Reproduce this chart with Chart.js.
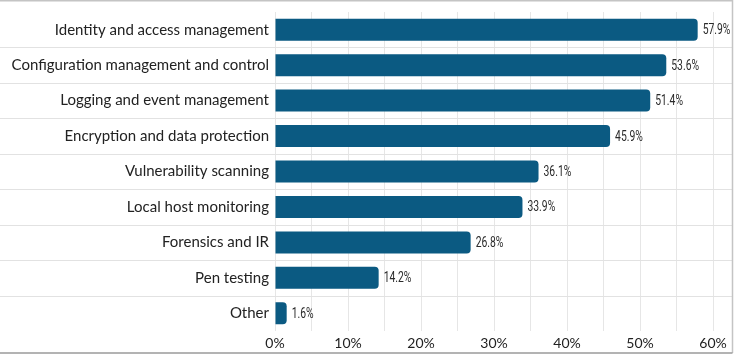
<!DOCTYPE html>
<html>
<head>
<meta charset="utf-8">
<script src="https://cdn.jsdelivr.net/npm/chart.js@4/dist/chart.umd.min.js"></script>
<style>
html,body{margin:0;padding:0;background:#fff;}
#wrap{position:relative;width:737px;height:356px;}
</style>
</head>
<body>
<div id="wrap"><canvas id="c" width="737" height="356"></canvas></div>
<script>
const categories = [
  "Identity and access management",
  "Configuration management and control",
  "Logging and event management",
  "Encryption and data protection",
  "Vulnerability scanning",
  "Local host monitoring",
  "Forensics and IR",
  "Pen testing",
  "Other"
];
const values = [57.9, 53.6, 51.4, 45.9, 36.1, 33.9, 26.8, 14.2, 1.6];
const xTickValues = [0, 10, 20, 30, 40, 50, 60];

const BAR = '#0b5a82';
const TEXT = '#222222';

const separators = {
  id: 'separators',
  beforeDatasetsDraw(chart) {
    const {ctx, scales: {y}} = chart;
    ctx.save();
    ctx.strokeStyle = '#e2e2e2';
    ctx.lineWidth = 1;
    const n = y.ticks.length;
    for (let i = 0; i < n - 1; i++) {
      const py = Math.round((y.getPixelForTick(i) + y.getPixelForTick(i + 1)) / 2) + 0.5;
      ctx.beginPath();
      ctx.moveTo(0, py);
      ctx.lineTo(chart.width - 5, py);
      ctx.stroke();
    }
    ctx.restore();
  },
  afterDraw(chart) {
    const ctx = chart.ctx;
    ctx.save();
    ctx.strokeStyle = '#c4c4c4';
    ctx.lineWidth = 1.5;
    ctx.beginPath();
    ctx.moveTo(0, 0.75);
    ctx.lineTo(chart.width - 4.5, 0.75);
    ctx.lineTo(chart.width - 4.5, chart.height - 3);
    ctx.stroke();
    ctx.strokeStyle = '#9a9a9a';
    ctx.beginPath();
    ctx.moveTo(0, chart.height - 3);
    ctx.lineTo(chart.width - 4.5, chart.height - 3);
    ctx.stroke();
    ctx.restore();
  }
};

const valueLabels = {
  id: 'valueLabels',
  afterDatasetsDraw(chart) {
    const ctx = chart.ctx;
    const meta = chart.getDatasetMeta(0);
    meta.data.forEach((bar, i) => {
      ctx.save();
      ctx.fillStyle = '#2a2a2a';
      ctx.font = '14px Roboto, "DejaVu Sans", sans-serif';
      ctx.textBaseline = 'middle';
      ctx.textAlign = 'left';
      ctx.translate(bar.x + 5, bar.y + 1);
      ctx.scale(0.74, 1);
      ctx.fillText(values[i].toFixed(1) + '%', 0, 0);
      ctx.restore();
    });
  }
};

new Chart(document.getElementById('c'), {
  type: 'bar',
  data: {
    labels: categories,
    datasets: [{
      data: values,
      backgroundColor: BAR,
      borderRadius: 4,
      borderSkipped: 'start',
      barPercentage: 0.62,
      categoryPercentage: 1
    }]
  },
  options: {
    indexAxis: 'y',
    responsive: false,
    animation: false,
    devicePixelRatio: 1,
    layout: {padding: {top: 12, right: 24, bottom: 0, left: 0}},
    plugins: {legend: {display: false}, tooltip: {enabled: false}},
    scales: {
      x: {
        min: 0, max: 60,
        border: {display: false},
        grid: {color: '#e6e6e6', drawTicks: false},
        ticks: {
          stepSize: 5,
          padding: 4,
          color: TEXT,
          font: {family: 'Lato', size: 14},
          callback: (v) => xTickValues.includes(v) ? v + '%' : ''
        },
        afterFit: (s) => { s.height = 25; s.paddingLeft = 0; s.paddingRight = 0; }
      },
      y: {
        border: {display: false},
        grid: {display: false, drawTicks: false},
        ticks: {
          padding: 6,
          color: TEXT,
          font: {family: 'Lato', size: 15}
        },
        afterFit: (s) => { s.width = 275; s.paddingTop = 0; s.paddingBottom = 0; }
      }
    }
  },
  plugins: [separators, valueLabels]
});
</script>
</body>
</html>
